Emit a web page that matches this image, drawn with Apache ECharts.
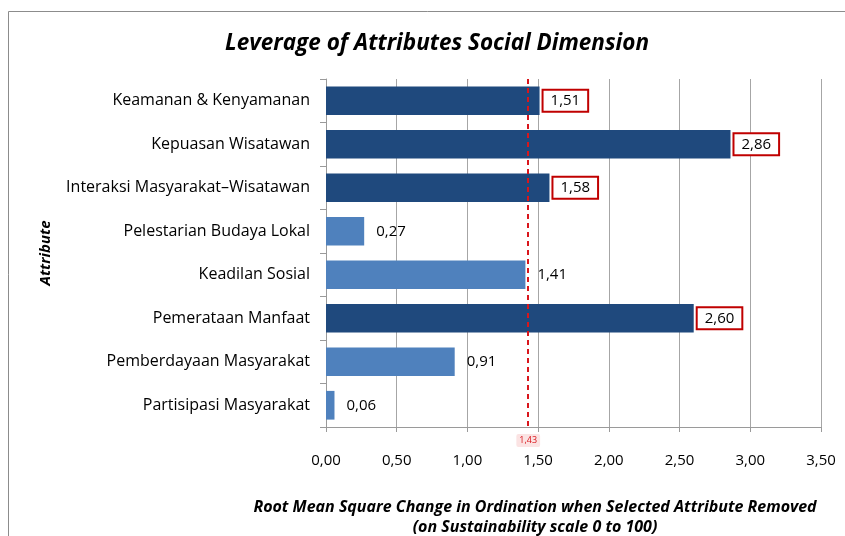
<!DOCTYPE html>
<html>
<head>
<meta charset="utf-8">
<script src="https://cdn.jsdelivr.net/npm/echarts@6/dist/echarts.min.js"></script>
<style>
  html, body { margin: 0; padding: 0; background: #fff; }
  #chart { width: 845px; height: 536px; }
</style>
</head>
<body>
<div id="chart"></div>
<script>
const categories = [
  "Keamanan & Kenyamanan",
  "Kepuasan Wisatawan",
  "Interaksi Masyarakat–Wisatawan",
  "Pelestarian Budaya Lokal",
  "Keadilan Sosial",
  "Pemerataan Manfaat",
  "Pemberdayaan Masyarakat",
  "Partisipasi Masyarakat",
];
const leverage = [1.51, 2.86, 1.58, 0.27, 1.41, 2.6, 0.91, 0.06];
const threshold = 1.43;

const FONT = "'Open Sans', 'Noto Sans', sans-serif";
const DARK = "#1f497d";
const LIGHT = "#4f81bd";

function fmt(v) {
  return v.toFixed(2).replace(".", ",");
}

const chart = echarts.init(document.getElementById("chart"), null, { renderer: "canvas" });

// bars above the threshold are dark and get a red boxed label
const barData = leverage.map((v) => {
  const high = v > threshold;
  return {
    value: v,
    itemStyle: { color: high ? DARK : LIGHT },
    label: high
      ? {
          borderColor: "#c00000",
          borderWidth: 2,
          backgroundColor: "#fff",
          padding: [3, 7, 2, 7],
          distance: 4,
        }
      : { distance: 12 },
  };
});

chart.setOption({
  animation: false,
  backgroundColor: "#fff",
  textStyle: { fontFamily: FONT },
  title: [
    {
      text: "Leverage of Attributes Social Dimension",
      left: 432,
      top: 27,
      textAlign: "center",
      textStyle: { fontSize: 22.5, fontWeight: "bold", fontStyle: "italic", color: "#000", fontFamily: FONT },
    },
    {
      text: "Root Mean Square Change in Ordination when Selected Attribute Removed\n(on Sustainability scale 0 to 100)",
      left: 530,
      top: 492,
      textAlign: "center",
      textStyle: {
        fontSize: 16,
        fontWeight: "bold",
        fontStyle: "italic",
        color: "#000",
        lineHeight: 20,
        fontFamily: FONT,
      },
    },
  ],
  graphic: [
    {
      type: "rect",
      shape: { x: 8.5, y: 11.5, width: 900, height: 600 },
      style: { fill: "none", stroke: "#8c8c8c", lineWidth: 1 },
      silent: true,
    },
  ],
  grid: { left: 326, right: 24, top: 79, bottom: 109 },
  xAxis: {
    type: "value",
    min: 0,
    max: 3.5,
    interval: 0.5,
    axisLine: { show: true, lineStyle: { color: "#9a9a9a" } },
    axisTick: { show: true, length: 5, lineStyle: { color: "#9a9a9a" } },
    axisLabel: { color: "#000", fontSize: 15, margin: 26, formatter: fmt },
    splitLine: { show: true, lineStyle: { color: "#a6a6a6", width: 1 } },
  },
  yAxis: {
    type: "category",
    data: categories,
    inverse: true,
    name: "Attribute",
    nameLocation: "middle",
    nameGap: 273,
    nameRotate: 90,
    nameTextStyle: { fontSize: 15, fontWeight: "bold", fontStyle: "italic", color: "#000" },
    axisLine: { show: true, lineStyle: { color: "#9a9a9a" } },
    axisTick: { show: true, length: 6, lineStyle: { color: "#9a9a9a" } },
    axisLabel: { color: "#000", fontSize: 16, margin: 16 },
  },
  series: [
    {
      type: "bar",
      data: barData,
      barCategoryGap: "34%",
      label: {
        show: true,
        position: "right",
        color: "#000",
        fontSize: 15,
        formatter: (p) => fmt(p.value),
      },
      markLine: {
        silent: true,
        symbol: "none",
        lineStyle: { color: "#d9161c", type: [5, 4], width: 2 },
        label: {
          show: true,
          position: "end",
          formatter: "1,43",
          color: "#d9161c",
          fontSize: 9,
          backgroundColor: "#fbe3e3",
          padding: [2, 3],
          borderRadius: 2,
          distance: 7,
        },
        data: [{ xAxis: threshold }],
      },
    },
  ],
});
</script>
</body>
</html>
